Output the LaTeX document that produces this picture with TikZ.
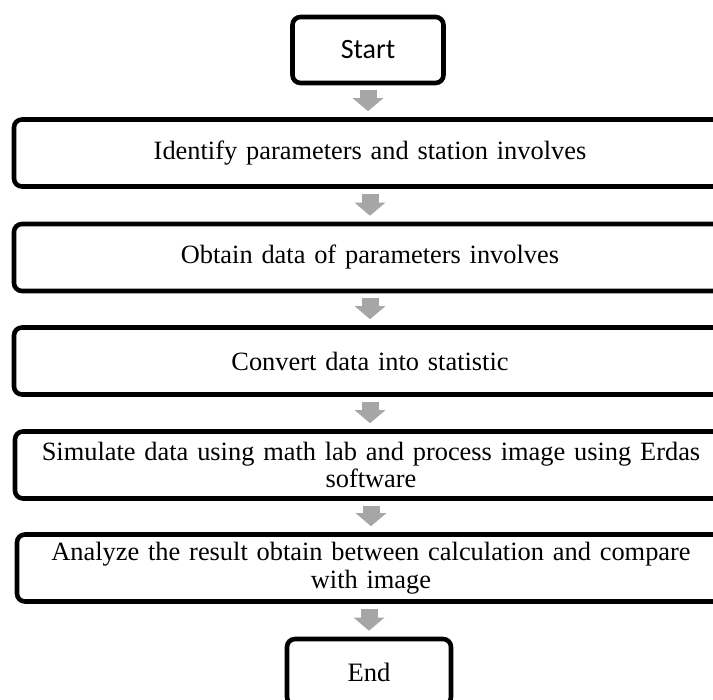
\documentclass[tikz,border=0pt]{standalone}
\usepackage{fontspec}
\setmainfont{Liberation Serif}[WordSpace=0.8]
\newfontfamily\startfont{Carlito}
\usepackage{xcolor}
\usepackage{tikz}
\usetikzlibrary{arrows.meta, shapes.geometric}
\definecolor{arrowgray}{RGB}{166, 166, 166}

\begin{document}
\begin{tikzpicture}[x=0.5pt, y=-0.5pt,
    stepbox/.style={draw, line width=2.3pt, rounded corners=4pt, align=center,
                    minimum width=356pt, minimum height=33.5pt, text width=345pt,
                    font=\fontsize{13.2}{13.8}\selectfont},
    termbox/.style={draw, line width=2.3pt, rounded corners=4pt, align=center,
                    minimum width=75.5pt, minimum height=33pt},
    flowarrow/.style={draw=arrowgray, line width=8.5pt,
                      -{Triangle[width=15pt, length=6.5pt]},
                      shorten <=2.5pt, shorten >=3pt}]
    % Fix the page to the size of the reference
    \useasboundingbox (0,0) rectangle (713,700);
    \clip (0,0) rectangle (713,700);

    % Start and end terminals
    \node[termbox, font=\startfont\fontsize{14}{16}\selectfont] (start) at (368,50) {Start};
    \node[termbox, minimum width=82pt, font=\fontsize{13.3}{15.5}\selectfont] (stop) at (369,672) {End};

    % The five process steps (boxes run past the right edge)
    \node[stepbox] (ident) at (370,153) {Identify parameters and station involves};
    \node[stepbox] (obtain) at (370,257.5) {Obtain data of parameters involves};
    \node[stepbox] (convert) at (370,361) {Convert data into statistic};
    \node[stepbox] (simul) at (371,465) {Simulate data using math lab and process image using Erdas\\ software};
    \node[stepbox, minimum width=354pt] (analyze) at (371,568) {Analyze the result obtain between calculation and compare\\ with image};

    % Block arrows between the steps
    \foreach \a/\b in {start/ident, ident/obtain, obtain/convert,
                       convert/simul, simul/analyze} {
        \draw[flowarrow] (\a.south) -- (\a.south |- \b.north);
    }
    \draw[flowarrow] (analyze.south -| stop.north) -- (stop.north);
\end{tikzpicture}
\end{document}
